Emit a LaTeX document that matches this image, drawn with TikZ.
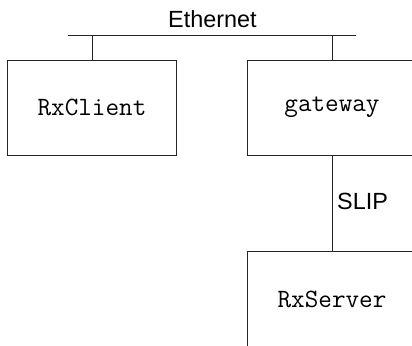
\documentclass[tikz,border=0pt]{standalone}
\usepackage{fontspec}
\setmainfont{Liberation Sans}
\begin{document}
\begin{tikzpicture}[x=1bp,y=-1bp,
  box/.style={draw=black!85, line width=1bp, minimum width=168bp, minimum height=95bp, inner sep=0pt, font=\fontsize{26.5}{28}\selectfont\ttfamily},
  link/.style={draw=black!85, line width=1bp},
  lbl/.style={inner sep=0pt, font=\fontsize{23.5}{26}\selectfont}]
\useasboundingbox (0,0) rectangle (412,346);
\clip (0,0) rectangle (412,346);
\node[box] (client) at (92,107.5) {RxClient};
\node[box] (gateway) at (332,107.5) {gateway};
\node[box] (server) at (332,299) {RxServer};
\coordinate (eL) at (68,35.5);
\coordinate (eR) at (356,35.5);
\coordinate (t1) at (92,35.5);
\coordinate (t2) at (332,35.5);
\draw[link] (eL) -- (eR);
\draw[link] (client.north) -- (t1);
\draw[link] (gateway.north) -- (t2);
\draw[link] (gateway.south) -- (server.north);
\node[lbl, anchor=base] (eth) at (212.5,27.5) {Ethernet};
\node[lbl, anchor=base west] (slip) at (337,209.5) {SLIP};
\end{tikzpicture}
\end{document}
